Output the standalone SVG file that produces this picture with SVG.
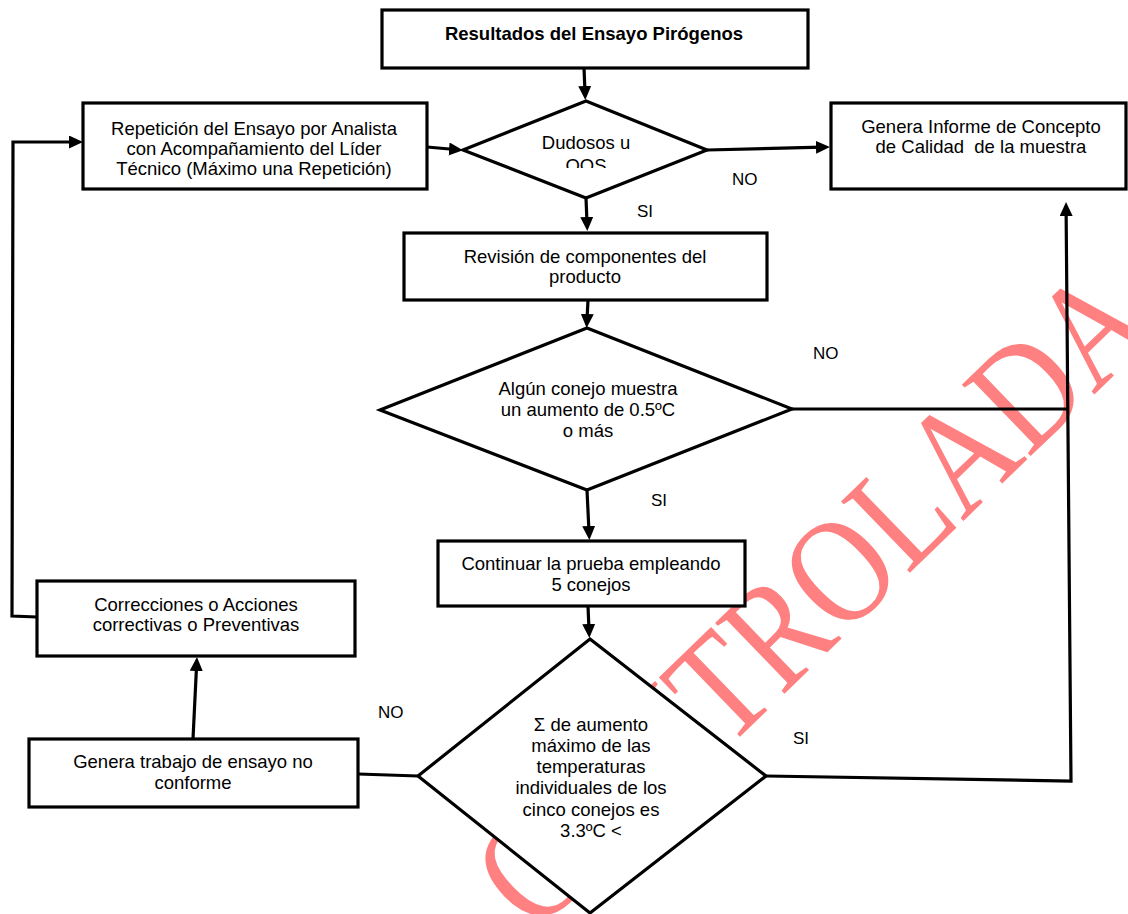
<svg xmlns="http://www.w3.org/2000/svg" width="1128" height="914" viewBox="0 0 1128 914">
  <defs>
    <marker id="arrow" markerUnits="userSpaceOnUse" markerWidth="16" markerHeight="14" refX="6" refY="6.5" orient="auto">
      <path d="M0,0 L14,6.5 L0,13 z" fill="#000"/>
    </marker>
    <clipPath id="clipD1">
      <rect x="460" y="95" width="250" height="73"/>
    </clipPath>
  </defs>
  <style>
    .box { fill: #fff; stroke: #000; stroke-width: 3.2; }
    .dia { fill: #fff; stroke: #000; stroke-width: 3.2; stroke-linejoin: miter; }
    .txt { font-family: "Liberation Sans", Arial, sans-serif; font-size: 18.5px; fill: #000; text-anchor: middle; }
    .bold { font-weight: bold; }
    .lbl { font-family: "Liberation Sans", Arial, sans-serif; font-size: 17px; fill: #000; }
    .con { fill: none; stroke: #000; stroke-width: 3.2; }
    .arr { marker-end: url(#arrow); }
    .wm { font-family: "Liberation Serif", "Times New Roman", serif; font-size: 126px; fill: #ff8080; }
  </style>

  <rect width="1128" height="914" fill="#fff"/>

  <!-- watermark, behind everything -->
  <g id="watermark" transform="translate(534.6,935) rotate(-44) scale(1,1.2)">
    <text class="wm" x="0" y="0">CONTROLADA</text>
  </g>

  <!-- connectors -->
  <g id="connectors">
    <path class="con arr" d="M584,68 L585,92"/>
    <path class="con arr" d="M586,198 L587,223"/>
    <path class="con arr" d="M588,300 L587,320"/>
    <path class="con arr" d="M587,490 L589,532"/>
    <path class="con arr" d="M588,606 L589,630"/>
    <path class="con arr" d="M427,147 L455,149.5"/>
    <path class="con arr" d="M707,150 L822,147.2"/>
    <path class="con" d="M792,409 L1068,409"/>
    <path class="con arr" d="M766,776 L1071,781 L1066.1,210"/>
    <path class="con" d="M358,774 L418,776"/>
    <path class="con arr" d="M193,739 L196.6,665"/>
    <path class="con arr" d="M37,617 L12,616 L13,142 L75,142"/>
  </g>

  <!-- nodes -->
  <g id="resultados">
    <rect class="box" x="382" y="10" width="426" height="58"/>
    <text class="txt bold" x="594" y="40">Resultados del Ensayo Pirógenos</text>
  </g>

  <g id="repeticion">
    <rect class="box" x="83" y="103" width="344" height="86"/>
    <text class="txt" x="254" y="135">Repetición del Ensayo por Analista</text>
    <text class="txt" x="254" y="155">con Acompañamiento del Líder</text>
    <text class="txt" x="254" y="175">Técnico (Máximo una Repetición)</text>
  </g>

  <g id="dudosos">
    <polygon class="dia" points="586,101 707,150 586,198 463,150"/>
    <g clip-path="url(#clipD1)">
      <text class="txt" x="586" y="149">Dudosos u</text>
      <text class="txt" x="586" y="172">OOS</text>
    </g>
  </g>

  <g id="informe">
    <rect class="box" x="831" y="103" width="295" height="86"/>
    <text class="txt" x="981" y="133">Genera Informe de Concepto</text>
    <text class="txt" x="981" y="153" xml:space="preserve">de Calidad  de la muestra</text>
  </g>

  <g id="revision">
    <rect class="box" x="404" y="233" width="363" height="67"/>
    <text class="txt" x="585" y="263">Revisión de componentes del</text>
    <text class="txt" x="585" y="283">producto</text>
  </g>

  <g id="conejo">
    <polygon class="dia" points="587,328 792,409 587,490 380,410"/>
    <text class="txt" x="588" y="395">Algún conejo muestra</text>
    <text class="txt" x="588" y="416">un aumento de 0.5ºC</text>
    <text class="txt" x="588" y="437">o más</text>
  </g>

  <g id="continuar">
    <rect class="box" x="438" y="541" width="307" height="65"/>
    <text class="txt" x="591" y="570">Continuar la prueba empleando</text>
    <text class="txt" x="591" y="591">5 conejos</text>
  </g>

  <g id="correcciones">
    <rect class="box" x="37" y="581" width="318" height="75"/>
    <text class="txt" x="196" y="611">Correcciones o Acciones</text>
    <text class="txt" x="196" y="631">correctivas o Preventivas</text>
  </g>

  <g id="suma">
    <polygon class="dia" points="590,639 766,776 590,913 418,776"/>
    <text class="txt" x="591" y="731">Σ de aumento</text>
    <text class="txt" x="591" y="752">máximo de las</text>
    <text class="txt" x="591" y="773">temperaturas</text>
    <text class="txt" x="591" y="794">individuales de los</text>
    <text class="txt" x="591" y="816">cinco conejos es</text>
    <text class="txt" x="591" y="837">3.3ºC &lt;</text>
  </g>

  <g id="no-conforme">
    <rect class="box" x="29" y="739" width="329" height="68"/>
    <text class="txt" x="193" y="768">Genera trabajo de ensayo no</text>
    <text class="txt" x="193" y="789">conforme</text>
  </g>

  <!-- branch labels -->
  <g id="labels">
    <text class="lbl" x="732" y="185">NO</text>
    <text class="lbl" x="637" y="217">SI</text>
    <text class="lbl" x="813" y="359">NO</text>
    <text class="lbl" x="651" y="506">SI</text>
    <text class="lbl" x="378" y="718">NO</text>
    <text class="lbl" x="793" y="744">SI</text>
  </g>
</svg>
